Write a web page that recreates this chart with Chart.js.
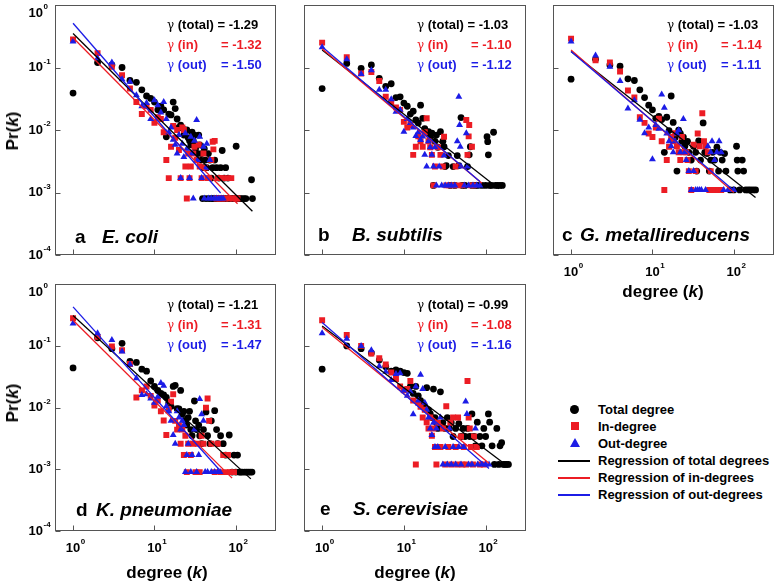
<!DOCTYPE html>
<html>
<head>
<meta charset="utf-8">
<script src="https://cdn.jsdelivr.net/npm/chart.js@4.4.1/dist/chart.umd.min.js"></script>
<style>
  html, body { margin: 0; padding: 0; background: #fff; }
  #wrap { position: relative; width: 778px; height: 584px; overflow: hidden;
          font-family: "Liberation Sans", Arial, sans-serif; font-weight: bold; color: #000; }
  canvas { position: absolute; }
  .gam { position: absolute; font-size: 13px; line-height: 20px; white-space: nowrap; }
  .gam .g { font-weight: normal; font-family: "DejaVu Serif", serif; font-size: 12px; }
  .gam .lab { display: inline-block; width: 54px; }
  .tag { position: absolute; font-size: 19px; line-height: 22px; white-space: nowrap; }
  .tag.name { font-style: italic; }
  .xtitle { position: absolute; font-size: 17px; line-height: 20px; white-space: nowrap; transform: translate(-50%, -50%); }
  .ytitle { position: absolute; font-size: 17px; line-height: 20px; white-space: nowrap; transform: translate(-50%, -50%) rotate(-90deg); }
  .legend { position: absolute; left: 550px; top: 401px; font-size: 13px; }
  .legend .row { height: 17px; line-height: 17px; display: flex; align-items: center; white-space: nowrap; }
  .legend .key { width: 48px; height: 17px; position: relative; }
  .legend .key span { position: absolute; }
  .dot { width: 9px; height: 9px; border-radius: 50%; background: #000; left: 20px; top: 4px; }
  .sq { width: 8px; height: 8px; background: #ec1c24; left: 21px; top: 4px; }
  .tri { width: 0; height: 0; border-left: 5px solid transparent; border-right: 5px solid transparent;
         border-bottom: 9px solid #1c1ce6; left: 20px; top: 3px; }
  .ln { width: 32px; height: 1.5px; left: 8px; top: 8px; }
</style>
</head>
<body>
<div id="wrap"></div>
<script>
// ── axes ───────────────────────────────────────────────
const X_TICKS = [1, 10, 100];
const Y_TICKS = [1e-4, 1e-3, 1e-2, 1e-1, 1];
const X_MIN = 0.63, X_MAX = 310;
const Y_MIN = 1e-4, Y_MAX = 1;

const BLACK = '#000000';
const RED   = '#ec1c24';
const BLUE  = '#1c1ce6';

// ── a  E. coli  [degree k, Pr(k)] ──────────────────────
const ECOLI_TOTAL = [[1,0.039],[2,0.12],[3,0.11],[4,0.10],[5,0.062],[6,0.058],[7,0.044],[8,0.035],[9,0.032],[10,0.028],
  [11,0.021],[12,0.024],[13,0.021],[14,0.0078],[15,0.018],[16,0.0174],[17,0.028],[18,0.022],[19,0.015],[20,0.011],
  [21,0.012],[22,0.0108],[23,0.0083],[24,0.0092],[25,0.01],[26,0.0075],[27,0.0067],[28,0.0058],[29,0.0092],[30,0.0067],
  [31,0.0083],[32,0.005],[33,0.0058],[34,0.0042],[35,0.0083],[36,0.0058],[37,0.0033],[38,0.0042],[39,0.0008],[40,0.0025],
  [41,0.005],[42,0.0033],[43,0.0008],[44,0.0025],[46,0.0042],[47,0.0008],[48,0.0033],[50,0.0017],[51,0.0008],[52,0.0025],
  [53,0.0008],[55,0.0033],[57,0.0008],[58,0.0025],[60,0.0008],[62,0.0017],[63,0.0008],[65,0.0025],[67,0.0008],[68,0.0047],
  [70,0.0008],[72,0.0017],[74,0.0008],[75,0.0025],[78,0.0008],[80,0.0017],[83,0.0008],[88,0.0008],[92,0.0008],[97,0.0008],
  [101,0.0055],[105,0.0008],[112,0.0008],[118,0.0008],[126,0.0008],[133,0.0008],[156,0.0016],[160,0.0008]];
const ECOLI_IN = [[1,0.28],[2,0.17],[3,0.103],[4,0.075],[5,0.046],[6,0.028],[7,0.018],[8,0.024],[9,0.021],[10,0.013],
  [11,0.016],[12,0.015],[13,0.0092],[14,0.0033],[15,0.0017],[16,0.0054],[17,0.0116],[18,0.0075],[19,0.01],[20,0.0048],
  [21,0.0017],[22,0.011],[23,0.01],[24,0.0026],[25,0.0008],[26,0.0042],[27,0.0017],[28,0.0026],[30,0.0042],[31,0.0054],
  [33,0.0033],[35,0.0058],[36,0.0026],[38,0.0017],[40,0.0042],[42,0.0025],[45,0.0017],[47,0.0017],[50,0.0033],[52,0.0065],
  [53,0.0049],[55,0.0067],[58,0.0008],[60,0.0017],[63,0.0008],[65,0.0017],[68,0.0008],[70,0.0017],[74,0.0008],[80,0.0017],
  [82,0.0008],[88,0.0017],[92,0.0008],[100,0.0008],[105,0.0008]];
const ECOLI_OUT = [[1,0.26],[2,0.14],[3,0.12],[4,0.065],[5,0.059],[6,0.036],[7,0.024],[8,0.027],[9,0.015],[10,0.030],
  [11,0.025],[12,0.019],[13,0.028],[14,0.015],[15,0.0092],[16,0.011],[17,0.007],[18,0.0058],[19,0.0042],[20,0.0083],
  [21,0.0017],[22,0.006],[23,0.0037],[24,0.0089],[25,0.005],[27,0.0017],[28,0.0078],[29,0.0042],[30,0.0008],[31,0.0067],
  [33,0.0145],[34,0.0033],[36,0.0078],[38,0.0017],[40,0.0054],[41,0.0008],[43,0.0025],[44,0.006],[46,0.0008],[48,0.0033],
  [50,0.0008],[54,0.0008],[58,0.0008],[62,0.0008],[66,0.0008],[70,0.0008]];
const ECOLI_FITS  = [[[1,0.35],[160,0.0005]], [[1,0.30],[105,0.00066]], [[1,0.51],[65,0.00098]]];
const ECOLI_GAMMA = ['-1.29', '-1.32', '-1.50'];

// ── b  B. subtilis ─────────────────────────────────────
const BSUB_TOTAL = [[1,0.046],[2,0.116],[3,0.097],[4,0.11],[5,0.067],[6,0.05],[7,0.055],[8,0.033],[9,0.034],[10,0.027],
  [11,0.024],[12,0.018],[13,0.02],[14,0.0145],[15,0.013],[16,0.025],[17,0.0154],[18,0.0105],[19,0.0092],[20,0.0094],
  [21,0.0079],[22,0.0089],[23,0.0013],[24,0.0066],[25,0.0083],[26,0.0053],[28,0.0094],[30,0.0066],[31,0.0054],[32,0.0026],
  [33,0.0027],[35,0.0039],[37,0.0013],[40,0.0026],[42,0.0013],[45,0.0039],[47,0.0027],[50,0.0158],[52,0.0013],[56,0.0013],
  [60,0.0026],[63,0.004],[65,0.0054],[68,0.0013],[75,0.0013],[80,0.0013],[90,0.0013],[100,0.0013],[104,0.0078],[106,0.0065],
  [108,0.004],[112,0.0013],[118,0.0013],[125,0.0092],[132,0.0013],[140,0.0013],[150,0.0013],[160,0.0013]];
const BSUB_IN = [[1,0.25],[2,0.146],[3,0.08],[4,0.085],[5,0.061],[6,0.034],[7,0.028],[8,0.023],[9,0.021],[10,0.0135],
  [11,0.011],[12,0.012],[13,0.004],[14,0.0054],[15,0.0079],[16,0.0066],[17,0.0054],[18,0.0092],[19,0.0154],[20,0.0066],
  [21,0.0053],[22,0.004],[23,0.0013],[24,0.0026],[26,0.0053],[28,0.004],[30,0.0026],[31,0.0078],[33,0.0013],[36,0.0013],
  [40,0.0013],[43,0.0026],[46,0.0013],[52,0.0013],[58,0.0145],[60,0.004],[62,0.0079],[63,0.012],[66,0.0013],[68,0.0054],
  [72,0.0013]];
const BSUB_OUT = [[1,0.21],[2,0.135],[3,0.079],[4,0.09],[5,0.044],[6,0.044],[7,0.031],[8,0.0195],[9,0.021],[10,0.0094],
  [11,0.015],[12,0.013],[13,0.011],[14,0.008],[15,0.0092],[16,0.0069],[17,0.0079],[18,0.004],[19,0.0026],[20,0.0066],
  [21,0.0053],[22,0.004],[23,0.0026],[24,0.0053],[25,0.0013],[27,0.0026],[29,0.0013],[31,0.0039],[32,0.0013],[35,0.0013],
  [38,0.0013],[42,0.0013],[45,0.0066],[47,0.034],[48,0.012],[49,0.0054],[50,0.0026],[55,0.0013],[58,0.0089],[60,0.0026],
  [62,0.0013],[70,0.0013],[78,0.0013],[85,0.0013]];
const BSUB_FITS  = [[[1,0.19],[145,0.00115]], [[1,0.20],[90,0.0014]], [[1,0.215],[85,0.0015]]];
const BSUB_GAMMA = ['-1.03', '-1.10', '-1.12'];

// ── c  G. metallireducens ──────────────────────────────
const GMET_TOTAL = [[1,0.065],[2,0.135],[3,0.11],[4,0.105],[5,0.066],[6,0.062],[7,0.044],[8,0.033],[9,0.025],[10,0.021],
  [11,0.0154],[12,0.0165],[13,0.0147],[14,0.0044],[15,0.016],[16,0.0098],[17,0.035],[18,0.0132],[19,0.0076],[20,0.0022],
  [21,0.0099],[22,0.0088],[23,0.0066],[24,0.0077],[25,0.0055],[27,0.0066],[28,0.0044],[30,0.0033],[32,0.0055],[34,0.0044],
  [35,0.0022],[37,0.0067],[39,0.0033],[42,0.013],[44,0.0044],[47,0.0042],[50,0.0022],[52,0.0033],[55,0.0044],[58,0.0033],
  [62,0.0053],[65,0.0022],[68,0.0044],[72,0.0033],[77,0.0042],[80,0.0022],[90,0.0011],[100,0.0011],[108,0.0055],[110,0.0033],
  [112,0.0022],[118,0.0011],[127,0.0033],[132,0.0022],[140,0.0011],[150,0.0011],[160,0.0011],[172,0.0011],[185,0.0011]];
const GMET_IN = [[1,0.29],[2,0.13],[3,0.12],[4,0.086],[5,0.043],[6,0.033],[7,0.016],[8,0.013],[9,0.0088],[10,0.0077],
  [11,0.011],[12,0.0152],[13,0.0066],[14,0.0011],[15,0.0033],[16,0.0054],[17,0.0077],[18,0.0066],[19,0.0089],[20,0.0055],
  [21,0.0044],[22,0.0033],[23,0.0077],[24,0.0044],[26,0.0044],[27,0.0033],[28,0.0022],[30,0.0011],[32,0.0058],[34,0.0022],
  [36,0.0088],[38,0.0055],[41,0.0185],[43,0.0066],[45,0.0055],[48,0.0044],[50,0.0011],[52,0.0022],[55,0.0011],[60,0.0011],
  [65,0.0011],[70,0.0011]];
const GMET_OUT = [[1,0.26],[2,0.155],[3,0.103],[4,0.061],[5,0.022],[6,0.03],[7,0.0146],[8,0.0089],[9,0.011],[10,0.0034],
  [11,0.012],[12,0.0105],[13,0.037],[14,0.0228],[15,0.0088],[16,0.0066],[17,0.0055],[18,0.0044],[19,0.0066],[20,0.0088],
  [21,0.0099],[22,0.0044],[24,0.015],[25,0.0044],[26,0.0033],[28,0.0022],[30,0.0011],[32,0.0022],[34,0.0011],[36,0.0011],
  [38,0.0011],[40,0.0011],[45,0.0011],[48,0.0055],[52,0.0044],[54,0.0066],[58,0.0033],[62,0.0044],[66,0.0066],[70,0.0044],
  [75,0.0011],[85,0.0011],[100,0.0011]];
const GMET_FITS  = [[[1,0.18],[185,0.00083]], [[1,0.19],[100,0.001]], [[1,0.18],[100,0.00108]]];
const GMET_GAMMA = ['-1.03', '-1.14', '-1.11'];

// ── d  K. pneumoniae ───────────────────────────────────
const KPN_TOTAL = [[1,0.044],[2,0.135],[3,0.09],[4,0.11],[5,0.056],[6,0.054],[7,0.042],[8,0.039],[9,0.027],[10,0.022],
  [11,0.019],[12,0.017],[13,0.016],[14,0.0146],[15,0.012],[16,0.0105],[17,0.022],[18,0.023],[19,0.0096],[20,0.0095],
  [21,0.019],[22,0.0078],[23,0.0087],[24,0.0061],[25,0.0052],[26,0.0069],[27,0.0087],[28,0.0044],[29,0.0035],[31,0.0128],
  [32,0.0061],[33,0.0044],[35,0.0052],[36,0.0035],[38,0.0026],[40,0.0044],[43,0.0085],[45,0.0035],[48,0.0026],[50,0.0061],
  [55,0.0089],[58,0.0044],[60,0.0026],[65,0.0035],[70,0.0026],[75,0.0017],[83,0.0036],[90,0.0009],[95,0.0017],[100,0.0009],
  [105,0.0017],[110,0.0009],[115,0.0009],[120,0.0009],[128,0.0009],[135,0.0009],[142,0.0009],[150,0.0009],[158,0.0009]];
const KPN_IN = [[1,0.28],[2,0.14],[3,0.098],[4,0.085],[5,0.051],[6,0.0146],[7,0.019],[8,0.022],[9,0.0155],[10,0.0108],
  [11,0.013],[12,0.0087],[13,0.0062],[14,0.0036],[15,0.0096],[16,0.0125],[17,0.0165],[18,0.0061],[19,0.0044],[20,0.0052],
  [21,0.0026],[22,0.0044],[23,0.0017],[24,0.0035],[25,0.0009],[26,0.0026],[28,0.0017],[30,0.0026],[32,0.0009],[34,0.0026],
  [36,0.0009],[38,0.0035],[40,0.0026],[43,0.01],[45,0.014],[47,0.0061],[50,0.0026],[55,0.0009],[60,0.0026],[65,0.0009],
  [70,0.0017],[75,0.0009],[80,0.0017],[85,0.0009],[95,0.0009]];
const KPN_OUT = [[1,0.23],[2,0.16],[3,0.125],[4,0.081],[5,0.05],[6,0.03],[7,0.016],[8,0.0165],[9,0.014],[10,0.012],
  [11,0.015],[12,0.025],[13,0.0225],[14,0.0105],[15,0.0087],[16,0.0061],[17,0.0036],[18,0.0026],[19,0.0087],[20,0.0069],
  [21,0.0044],[22,0.0061],[23,0.0052],[24,0.0009],[25,0.0017],[26,0.0026],[28,0.0009],[29,0.0017],[31,0.0044],[33,0.0009],
  [35,0.0017],[36,0.0138],[38,0.0078],[40,0.0061],[42,0.0009],[45,0.0009],[50,0.0009],[55,0.0009],[60,0.0009],[64,0.0009]];
const KPN_FITS  = [[[1,0.31],[153,0.0007]], [[1,0.26],[90,0.00072]], [[1,0.43],[62,0.001]]];
const KPN_GAMMA = ['-1.21', '-1.31', '-1.47'];

// ── e  S. cerevisiae ───────────────────────────────────
const SCER_TOTAL = [[1,0.042],[2,0.1],[3,0.09],[4,0.077],[5,0.059],[6,0.046],[7,0.039],[8,0.041],[9,0.039],[10,0.037],
  [11,0.036],[12,0.022],[13,0.017],[14,0.022],[15,0.0155],[16,0.013],[17,0.0115],[18,0.0103],[19,0.021],[20,0.0092],
  [21,0.008],[22,0.0069],[23,0.02],[24,0.0069],[25,0.0057],[26,0.0046],[28,0.018],[30,0.0057],[32,0.0046],[34,0.0069],
  [36,0.0046],[38,0.0057],[40,0.0034],[43,0.0046],[47,0.0055],[50,0.0034],[53,0.0046],[56,0.0034],[60,0.0046],[64,0.0034],
  [68,0.0079],[72,0.0034],[75,0.0024],[79,0.0058],[85,0.0034],[90,0.0024],[95,0.0046],[100,0.0034],[108,0.0079],[112,0.0058],
  [120,0.0024],[128,0.0012],[137,0.0046],[145,0.0012],[150,0.0024],[157,0.0027],[165,0.0012],[172,0.0012],[180,0.0012],[190,0.0012]];
const SCER_IN = [[1,0.26],[2,0.15],[3,0.1],[4,0.075],[5,0.063],[6,0.05],[7,0.037],[8,0.029],[9,0.022],[10,0.019],
  [11,0.02],[12,0.027],[13,0.013],[14,0.0012],[15,0.012],[16,0.0103],[17,0.0069],[18,0.0092],[19,0.0058],[20,0.0046],
  [21,0.0069],[22,0.0035],[23,0.0046],[24,0.0023],[25,0.0012],[26,0.0057],[28,0.0023],[30,0.0046],[32,0.0012],[33,0.0105],
  [35,0.0023],[37,0.0057],[38,0.0012],[40,0.0069],[43,0.0023],[45,0.0012],[46,0.0069],[50,0.0034],[52,0.0012],[54,0.0023],
  [58,0.0012],[60,0.027],[62,0.0069],[64,0.0046],[66,0.0023],[70,0.0012],[72,0.0034],[78,0.0023],[85,0.0012],[95,0.0012]];
const SCER_OUT = [[1,0.16],[2,0.13],[3,0.1],[4,0.085],[5,0.047],[6,0.038],[7,0.028],[8,0.035],[9,0.036],[10,0.019],
  [11,0.0155],[12,0.018],[13,0.0078],[14,0.022],[15,0.013],[16,0.034],[17,0.02],[18,0.012],[19,0.0092],[20,0.0069],
  [21,0.0046],[22,0.0036],[23,0.0057],[24,0.0023],[25,0.0046],[26,0.0023],[28,0.0069],[30,0.0012],[32,0.0023],[34,0.0012],
  [36,0.0046],[38,0.0012],[40,0.0023],[43,0.0012],[47,0.0023],[50,0.0012],[54,0.0023],[57,0.0125],[59,0.0079],[62,0.0012],
  [68,0.0012],[75,0.0046],[80,0.0012],[90,0.0012],[100,0.0012],[110,0.0012]];
const SCER_FITS  = [[[1,0.21],[190,0.0011]], [[1,0.20],[110,0.00125]], [[1,0.24],[110,0.00103]]];
const SCER_GAMMA = ['-0.99', '-1.08', '-1.16'];

// ── layout of the five panels ──────────────────────────
const PANELS = [
  { letter: 'a', name: 'E. coli', total: ECOLI_TOTAL, inDeg: ECOLI_IN, outDeg: ECOLI_OUT, fits: ECOLI_FITS, gamma: ECOLI_GAMMA,
    box: { l: 0, t: 0, w: 280, h: 280 }, pad: { left: 55, top: 5, right: 3, bottom: 25 },
    gx: 167, gy: 15, lx: 75, nx: 102, ly: 237, yLabels: true, xLabels: false, yTitle: 131 },
  { letter: 'b', name: 'B. subtilis', total: BSUB_TOTAL, inDeg: BSUB_IN, outDeg: BSUB_OUT, fits: BSUB_FITS, gamma: BSUB_GAMMA,
    box: { l: 280, t: 0, w: 250, h: 280 }, pad: { left: 24, top: 5, right: 3, bottom: 25 },
    gx: 417, gy: 15, lx: 318, nx: 352, ly: 235, yLabels: false, xLabels: false },
  { letter: 'c', name: 'G. metallireducens', total: GMET_TOTAL, inDeg: GMET_IN, outDeg: GMET_OUT, fits: GMET_FITS, gamma: GMET_GAMMA,
    box: { l: 530, t: 0, w: 248, h: 300 }, pad: { left: 23, top: 5, right: 3, bottom: 45 },
    gx: 667, gy: 15, lx: 562, nx: 580, ly: 235, yLabels: false, xLabels: true, xTitle: [663, 292] },
  { letter: 'd', name: 'K. pneumoniae', total: KPN_TOTAL, inDeg: KPN_IN, outDeg: KPN_OUT, fits: KPN_FITS, gamma: KPN_GAMMA,
    box: { l: 0, t: 280, w: 280, h: 280 }, pad: { left: 55, top: 3, right: 3, bottom: 29 },
    gx: 167, gy: 295, lx: 76, nx: 96, ly: 510, yLabels: true, xLabels: true, xTitle: [167, 573], yTitle: 403 },
  { letter: 'e', name: 'S. cerevisiae', total: SCER_TOTAL, inDeg: SCER_IN, outDeg: SCER_OUT, fits: SCER_FITS, gamma: SCER_GAMMA,
    box: { l: 280, t: 280, w: 250, h: 280 }, pad: { left: 24, top: 3, right: 3, bottom: 29 },
    gx: 417, gy: 295, lx: 320, nx: 353, ly: 509, yLabels: false, xLabels: true, xTitle: [415, 573] },
];

const LEGEND = [
  { key: 'dot', text: 'Total degree' },
  { key: 'sq',  text: 'In-degree' },
  { key: 'tri', text: 'Out-degree' },
  { key: 'ln', color: BLACK, text: 'Regression of total degrees' },
  { key: 'ln', color: RED,   text: 'Regression of in-degrees' },
  { key: 'ln', color: BLUE,  text: 'Regression of out-degrees' },
];

// ── frame, inside ticks and 10^n labels ────────────────
const FONT = '"Liberation Sans", Arial, sans-serif';

function drawPower(ctx, v, x, y, centered) {
  const exp = String(Math.round(Math.log10(v)));
  ctx.font = 'bold 13px ' + FONT;
  const w = ctx.measureText('10').width;
  const bx = centered ? x - w / 2 : x - w;
  ctx.fillText('10', bx, y);
  ctx.font = 'bold 8px ' + FONT;
  ctx.fillText(exp, bx + w + 0.5, y - 6);
}

const framePlugin = {
  id: 'frame',
  afterDatasetsDraw(chart, args, opts) {
    const { ctx, chartArea: a } = chart;
    const xs = chart.scales.x, ys = chart.scales.y;
    const L = Math.round(a.left) + 0.5, T = Math.round(a.top) + 0.5;
    const R = Math.round(a.right) - 0.5, B = Math.round(a.bottom) - 0.5;
    ctx.save();
    ctx.strokeStyle = '#555';
    ctx.lineWidth = 1;
    ctx.strokeRect(L, T, R - L, B - T);
    ctx.beginPath();
    Y_TICKS.forEach(v => {
      const py = Math.round(ys.getPixelForValue(v)) + 0.5;
      ctx.moveTo(L, py); ctx.lineTo(L + 5, py);
    });
    X_TICKS.forEach(v => {
      const px = Math.round(xs.getPixelForValue(v)) + 0.5;
      ctx.moveTo(px, B); ctx.lineTo(px, B - 5);
    });
    ctx.stroke();

    ctx.fillStyle = '#000';
    ctx.textAlign = 'left';
    ctx.textBaseline = 'middle';
    if (opts.yLabels) {
      Y_TICKS.forEach(v => {
        const py = Math.max(ys.getPixelForValue(v), a.top + 8);
        drawPower(ctx, v, a.left - 12, py, false);
      });
    }
    if (opts.xLabels) {
      X_TICKS.forEach(v => {
        drawPower(ctx, v, xs.getPixelForValue(v), a.bottom + 17, true);
      });
    }
    ctx.restore();
  }
};

// ── build ──────────────────────────────────────────────
const wrap = document.getElementById('wrap');
const pts = arr => arr.map(([x, y]) => ({ x, y }));

function fitLine(arr, color) {
  return { data: pts(arr), showLine: true, borderColor: color, borderWidth: 1.3,
           pointRadius: 0, pointHoverRadius: 0, fill: false };
}
function marks(arr, style, color, r) {
  return { data: pts(arr), pointStyle: style, pointRadius: r, pointHoverRadius: r,
           backgroundColor: color, borderColor: color, borderWidth: 0 };
}
function addDiv(cls, html, css) {
  const d = document.createElement('div');
  d.className = cls;
  d.innerHTML = html;
  Object.assign(d.style, css);
  wrap.appendChild(d);
  return d;
}

PANELS.forEach(p => {
  const cv = document.createElement('canvas');
  cv.width = p.box.w; cv.height = p.box.h;
  Object.assign(cv.style, { left: p.box.l + 'px', top: p.box.t + 'px', width: p.box.w + 'px', height: p.box.h + 'px' });
  wrap.appendChild(cv);

  new Chart(cv.getContext('2d'), {
    type: 'scatter',
    data: {
      datasets: [
        fitLine(p.fits[2], BLUE),
        fitLine(p.fits[1], RED),
        fitLine(p.fits[0], BLACK),
        marks(p.outDeg, 'triangle', BLUE, 4),
        marks(p.inDeg, 'rect', RED, 4.2),
        marks(p.total, 'circle', BLACK, 3.4),
      ],
    },
    options: {
      responsive: false,
      animation: false,
      devicePixelRatio: 1,
      layout: { padding: p.pad },
      plugins: {
        legend: { display: false },
        tooltip: { enabled: false },
        frame: { yLabels: p.yLabels, xLabels: p.xLabels },
      },
      scales: {
        x: { type: 'logarithmic', min: X_MIN, max: X_MAX, display: false },
        y: { type: 'logarithmic', min: Y_MIN, max: Y_MAX, display: false },
      },
    },
    plugins: [framePlugin],
  });

  // gamma annotations
  addDiv('gam',
    `<div style="color:${BLACK}"><span class="g">γ</span> (total) = ${p.gamma[0]}</div>` +
    `<div style="color:${RED}"><span class="lab"><span class="g">γ</span> (in)</span>= ${p.gamma[1]}</div>` +
    `<div style="color:${BLUE}"><span class="lab"><span class="g">γ</span> (out)</span>= ${p.gamma[2]}</div>`,
    { left: p.gx + 'px', top: p.gy + 'px' });

  // panel letter + species
  addDiv('tag', p.letter, { left: p.lx + 'px', top: (p.ly - 11) + 'px' });
  addDiv('tag name', p.name, { left: p.nx + 'px', top: (p.ly - 11) + 'px' });

  if (p.xTitle) addDiv('xtitle', 'degree (<i>k</i>)', { left: p.xTitle[0] + 'px', top: p.xTitle[1] + 'px' });
  if (p.yTitle) addDiv('ytitle', 'Pr(<i>k</i>)', { left: '13px', top: p.yTitle + 'px' });
});

// legend
const lg = addDiv('legend', '', {});
LEGEND.forEach(it => {
  const row = document.createElement('div');
  row.className = 'row';
  const style = it.key === 'ln' ? ` style="background:${it.color}"` : '';
  row.innerHTML = `<div class="key"><span class="${it.key}"${style}></span></div><div>${it.text}</div>`;
  lg.appendChild(row);
});
</script>
</body>
</html>
